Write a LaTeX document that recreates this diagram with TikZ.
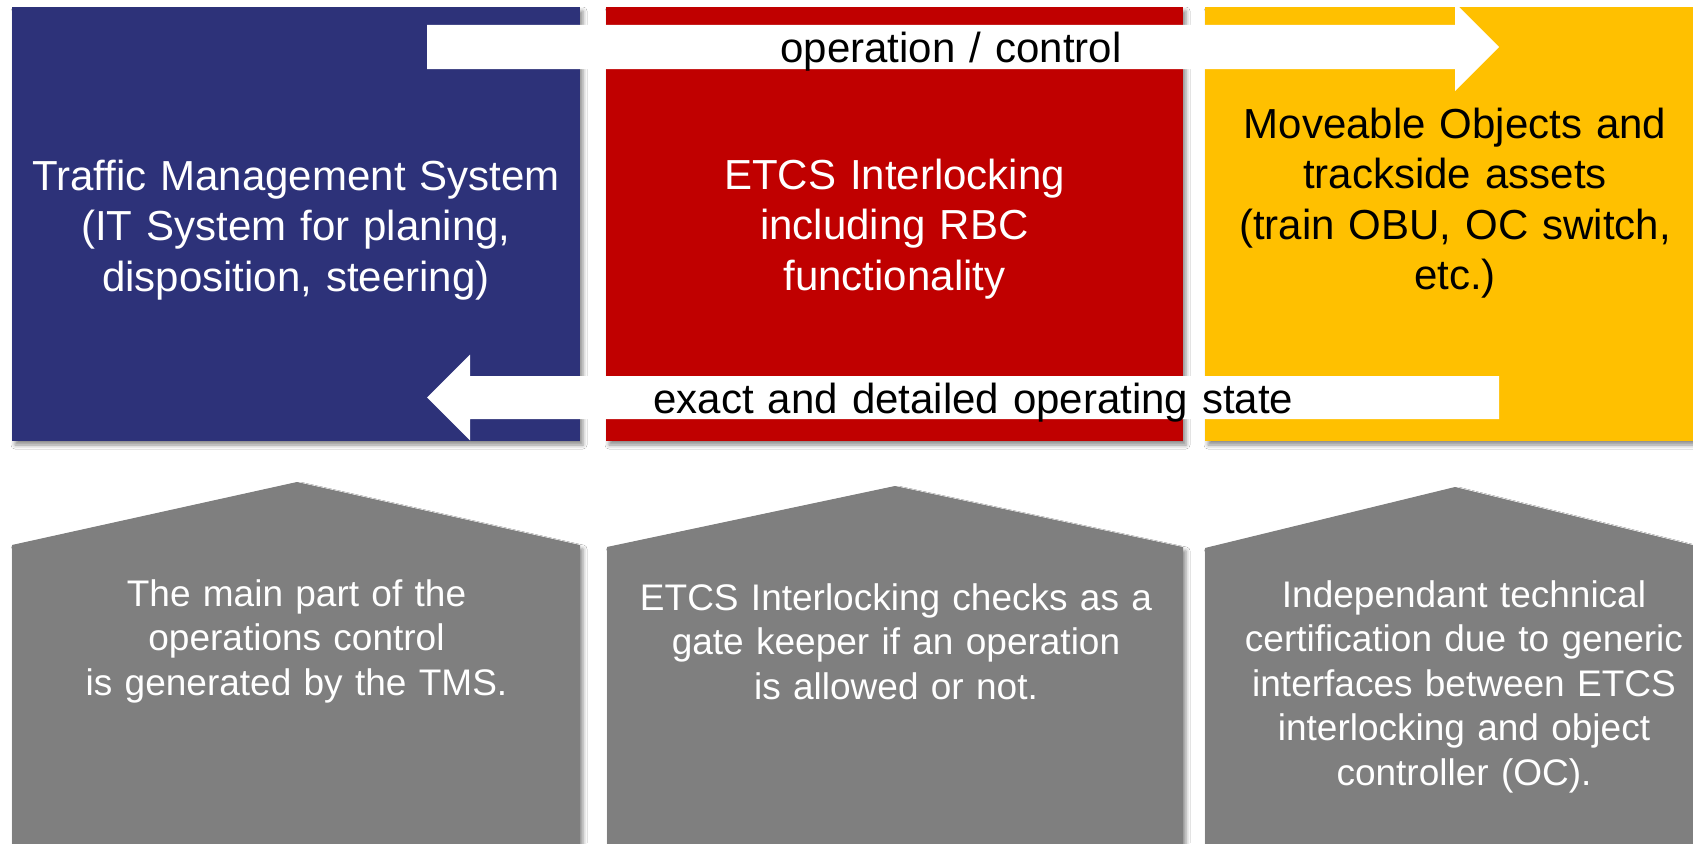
\documentclass[tikz,border=0pt]{standalone}
\usepackage{fontspec}
\setmainfont{Liberation Sans}
\usetikzlibrary{shadows.blur}

\definecolor{tmsblue}{RGB}{45,50,121}
\definecolor{ixlred}{RGB}{192,0,0}
\definecolor{objyellow}{RGB}{255,192,0}
\definecolor{notegray}{RGB}{127,127,127}

\tikzset{
  softshadow/.style={blur shadow={shadow xshift=3pt, shadow yshift=-4pt,
      shadow blur radius=4pt, shadow opacity=45}},
  block/.style={rectangle, draw=none, inner sep=0pt, softshadow,
      minimum width=#1},
  house/.style={draw=none, fill=notegray, softshadow},
  blockarrow/.style={draw=none, fill=white},
  txt/.style={anchor=base, inner sep=0pt, text width=640pt, align=center},
  bigtxt/.style={txt, font=\fontsize{42}{50.5}\selectfont},
  smalltxt/.style={txt, font=\fontsize{37}{44.5}\selectfont, text=white},
}

\begin{document}
\begin{tikzpicture}[x=1pt, y=-1pt]
\clip (0,0) rectangle (1693,843);
\fill[white] (0,0) rectangle (1693,843);

% the three system blocks
\node[block=568pt, minimum height=434pt, fill=tmsblue]   (tms) at (296,224)   {};
\node[block=577pt, minimum height=434pt, fill=ixlred]    (ixl) at (894.5,224) {};
\node[block=500pt, minimum height=434pt, fill=objyellow] (obj) at (1455,224)  {};

% block titles
\node[bigtxt, text=white] (tmsTitle) at (296,190)
  {Traffic Management System\\(IT System for planing,\\disposition, steering)};
\node[bigtxt, text=white] (ixlTitle) at (894.5,189)
  {ETCS Interlocking\\including RBC\\functionality};
\node[bigtxt, text=black] (objTitle) at (1455,138)
  {Moveable Objects and\\trackside assets\\(train OBU, OC switch,\\etc.)};

% command flow, left to right
\coordinate (ctlTail) at (427,47);
\coordinate (ctlTip)  at (1499,47);
\fill[blockarrow] ([yshift=22pt]ctlTail) -- ([xshift=-44pt,yshift=22pt]ctlTip)
  -- ([xshift=-44pt,yshift=44pt]ctlTip) -- (ctlTip)
  -- ([xshift=-44pt,yshift=-44pt]ctlTip) -- ([xshift=-44pt,yshift=-22pt]ctlTip)
  -- ([yshift=-22pt]ctlTail) -- cycle;
\node[bigtxt, text=black] (ctlLabel) at (951,63) {operation / control};

% state feedback, right to left
\coordinate (stTail) at (1499,397.5);
\coordinate (stTip)  at (427,397.5);
\fill[blockarrow] ([yshift=21.5pt]stTail) -- ([xshift=43pt,yshift=21.5pt]stTip)
  -- ([xshift=43pt,yshift=43pt]stTip) -- (stTip)
  -- ([xshift=43pt,yshift=-43pt]stTip) -- ([xshift=43pt,yshift=-21.5pt]stTip)
  -- ([yshift=-21.5pt]stTail) -- cycle;
\node[bigtxt, text=black] (stLabel) at (973.5,413) {exact and detailed operating state};

% explanatory house shapes
\path[house] (12,545) -- (297,482) -- (580,545) -- (580,870) -- (12,870) -- cycle;
\path[house] (607,547) -- (895,486) -- (1183,547) -- (1183,870) -- (607,870) -- cycle;
\path[house] (1205,548) -- (1455,487) -- (1705,548) -- (1705,870) -- (1205,870) -- cycle;

\node[smalltxt] (tmsNote) at (296.5,606)
  {The main part of the\\operations control\\is generated by the TMS.};
\node[smalltxt] (ixlNote) at (896,610)
  {ETCS Interlocking checks as a\\gate keeper if an operation\\is allowed or not.};
\node[smalltxt] (objNote) at (1464,607)
  {Independant technical\\certification due to generic\\interfaces between ETCS\\interlocking and object\\controller (OC).};
\end{tikzpicture}
\end{document}
